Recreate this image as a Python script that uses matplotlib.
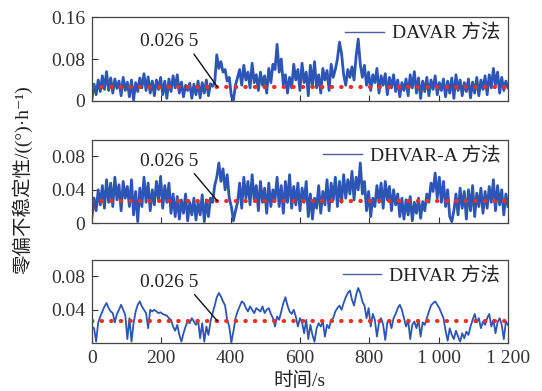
import numpy as np
import matplotlib
matplotlib.use('Agg')
import matplotlib.pyplot as plt

plt.rcParams['font.family'] = ['Liberation Serif', 'Noto Sans CJK SC', 'DejaVu Sans']
plt.rcParams['axes.unicode_minus'] = False

# sample times (s), one value every 6 s
t = np.arange(0, 1201, 6)

# bias instability, 1e-3 (°)/h
davar = [
    5, 32, 12, 40, 18, 48, 22, 56, 20, 44,
    15, 42, 24, 38, 10, 45, 20, 36, 8, 40,
    2, 35, 18, 44, 25, 52, 20, 46, 15, 38,
    10, 40, 22, 45, 12, 38, 5, 42, 18, 48,
    25, 50, 15, 36, 8, 30, 20, 34, 5, 32,
    12, 38, 6, 35, 15, 40, 10, 33, 28, 35,
    88, 62, 75, 55, 60, 38, 45, 10, 2, 30,
    45, 60, 30, 68, 40, 55, 25, 72, 35, 50,
    20, 55, 30, 48, 15, 62, 35, 70, 60, 108,
    55, 80, 30, 50, 15, 45, 25, 70, 40, 60,
    20, 72, 35, 55, 10, 68, 30, 75, 25, 50,
    15, 62, 40, 58, 20, 70, 45, 60, 80, 112,
    90, 50, 30, 60, 45, 65, 40, 85, 118, 70,
    45, 68, 30, 55, 20, 50, 35, 62, 15, 48,
    30, 52, 12, 45, 25, 50, 18, 40, 8, 35,
    20, 42, 10, 50, 25, 56, 15, 44, 5, 38,
    18, 45, 10, 40, 22, 48, 12, 35, 20, 42,
    8, 38, 15, 44, 5, 50, 20, 40, 10, 35,
    18, 42, 6, 36, 15, 45, 10, 40, 22, 48,
    12, 50, 25, 62, 30, 55, 15, 45, 20, 38, 25,
]

dhvar_a = [
    8, 30, 15, 40, 22, 45, 18, 52, 25, 48,
    20, 55, 28, 46, 15, 50, 30, 44, 20, 52,
    10, 38, 2, 42, 20, 55, 25, 48, 15, 40,
    22, 50, 28, 56, 18, 45, 25, 48, 12, 35,
    8, 32, 5, 28, 12, 35, 3, 25, 10, 30,
    4, 26, 10, 34, 2, 28, 8, 30, 25, 45,
    55, 72, 50, 65, 40, 58, 30, 20, 3, 15,
    25, 48, 18, 55, 30, 50, 22, 58, 28, 45,
    15, 50, 25, 42, 12, 48, 20, 40, 28, 55,
    20, 45, 12, 50, 25, 58, 18, 44, 22, 48,
    15, 42, 25, 50, 8, 35, 5, 30, 18, 45,
    12, 38, 22, 52, 15, 48, 28, 55, 20, 50,
    25, 58, 30, 52, 35, 62, 28, 55, 40, 72,
    35, 50, 15, 38, 8, 30, 20, 45, 25, 48,
    18, 50, 28, 44, 15, 40, 22, 35, 8, 30,
    5, 28, 10, 32, 3, 25, 12, 30, 6, 26,
    15, 35, 25, 48, 38, 60, 30, 55, 25, 50,
    20, 40, 8, 2, 15, 35, 10, 42, 18, 38,
    5, 40, 15, 45, 8, 36, 20, 42, 12, 38,
    18, 44, 25, 52, 15, 45, 22, 40, 10, 35, 20,
]

dhvar = [
    20, 18, 2, 25, 32, 38, 44, 48, 42, 38,
    36, 25, 35, 40, 46, 40, 34, 5, 30, 2,
    24, 38, 46, 50, 44, 40, 36, 18, 40, 38,
    40, 38, 36, 37, 35, 34, 33, 30, 28, 20,
    15, 22, 10, 2, 12, 20, 26, 24, 30, 26,
    22, 28, 6, 24, 2, 20, 10, 26, 36, 45,
    55, 60, 56, 50, 45, 28, 20, 1, 14, 30,
    38, 44, 50, 48, 42, 38, 44, 40, 36, 42,
    40, 38, 44, 36, 40, 42, 35, 30, 20, 32,
    28, 38, 48, 55, 45, 38, 35, 40, 32, 20,
    30, 25, 12, 28, 5, 22, 10, 2, 18, 24,
    20, 26, 8, 22, 18, 28, 30, 38, 42, 45,
    40, 48, 55, 60, 63, 52, 45, 58, 66, 60,
    50, 45, 30, 42, 20, 35, 28, 8, 25, 30,
    22, 4, 25, 28, 18, 30, 35, 42, 46, 40,
    30, 20, 28, 5, 22, 26, 18, 28, 8, 25,
    22, 30, 38, 45, 48, 50, 46, 42, 36, 30,
    15, 3, 18, 10, 5, 15, 8, 2, 12, 6,
    14, 10, 20, 28, 35, 25, 30, 18, 26, 22,
    30, 35, 20, 28, 12, 25, 30, 22, 5, 26, 22,
]

labels = ['DAVAR 方法', 'DHVAR-A 方法', 'DHVAR 方法']
ref_value = 0.0265
ref_text = '0.026 5'
xticks = [0, 200, 400, 600, 800, 1000, 1200]
xticklabels = ['0', '200', '400', '600', '800', '1 000', '1 200']

series = [np.array(davar) * 1e-3, np.array(dhvar_a) * 1e-3, np.array(dhvar) * 1e-3]
ylims = [0.16, 0.1, 0.1]
yticks = [[0, 0.08, 0.16], [0, 0.04, 0.08], [0.04, 0.08]]
yticklabels = [['0', '0.08', '0.16'], ['0', '0.04', '0.08'], ['0.04', '0.08']]
text_pos = [(222, 0.113), (222, 0.074), (222, 0.073)]
line_w = [2.0, 2.0, 1.3]

fig = plt.figure(figsize=(5.42, 3.91), dpi=100)
boxes = [[0.1697, 0.7417, 0.7675, 0.2148],
         [0.1697, 0.4289, 0.7675, 0.2143],
         [0.1697, 0.1220, 0.7675, 0.2143]]

blue = '#2d55b5'
fs = 14
for i, ax_box in enumerate(boxes):
    ax = fig.add_axes(ax_box)
    ax.plot(t, series[i], color=blue, lw=line_w[i], label=labels[i])
    ax.axhline(ref_value, color='#e8321e', lw=3.0, linestyle=(0, (0.1, 2.2)),
               dash_capstyle='round')
    ax.set_xlim(0, 1200)
    ax.set_ylim(0, ylims[i])
    ax.set_yticks(yticks[i])
    ax.set_yticklabels(yticklabels[i])
    ax.set_xticks(xticks)
    if i == 2:
        ax.set_xticklabels(xticklabels)
    else:
        ax.set_xticklabels([])
    ax.tick_params(direction='in', length=4, width=0.8, labelsize=fs,
                   colors='#333333', pad=5)
    for sp in ax.spines.values():
        sp.set_color('#444444')
        sp.set_linewidth(0.9)

    ax.annotate(ref_text, xy=(362, ref_value), xytext=text_pos[i],
                ha='center', va='center', fontsize=fs, color='#222222',
                arrowprops=dict(arrowstyle='-', color='#111111', lw=1.0,
                                relpos=(0.88, 0.0), shrinkA=1, shrinkB=0))

    leg = ax.legend(loc='upper right', frameon=False, fontsize=fs,
                    handlelength=2.0, handletextpad=0.4,
                    borderaxespad=0.25, borderpad=0.15)
    for ln in leg.get_lines():
        ln.set_linewidth(1.0)
        ln.set_color('#4a5fa8')
    for txt in leg.get_texts():
        txt.set_color('#222222')

fig.text(0.040, 0.54, '零偏不稳定性/((°)·h⁻¹)', rotation=90,
         ha='center', va='center', fontsize=fs, color='#222222')
fig.text(0.552, 0.026, '时间/s', ha='center', va='center', fontsize=fs,
         color='#222222')

fig.savefig('out.png', dpi=100)
